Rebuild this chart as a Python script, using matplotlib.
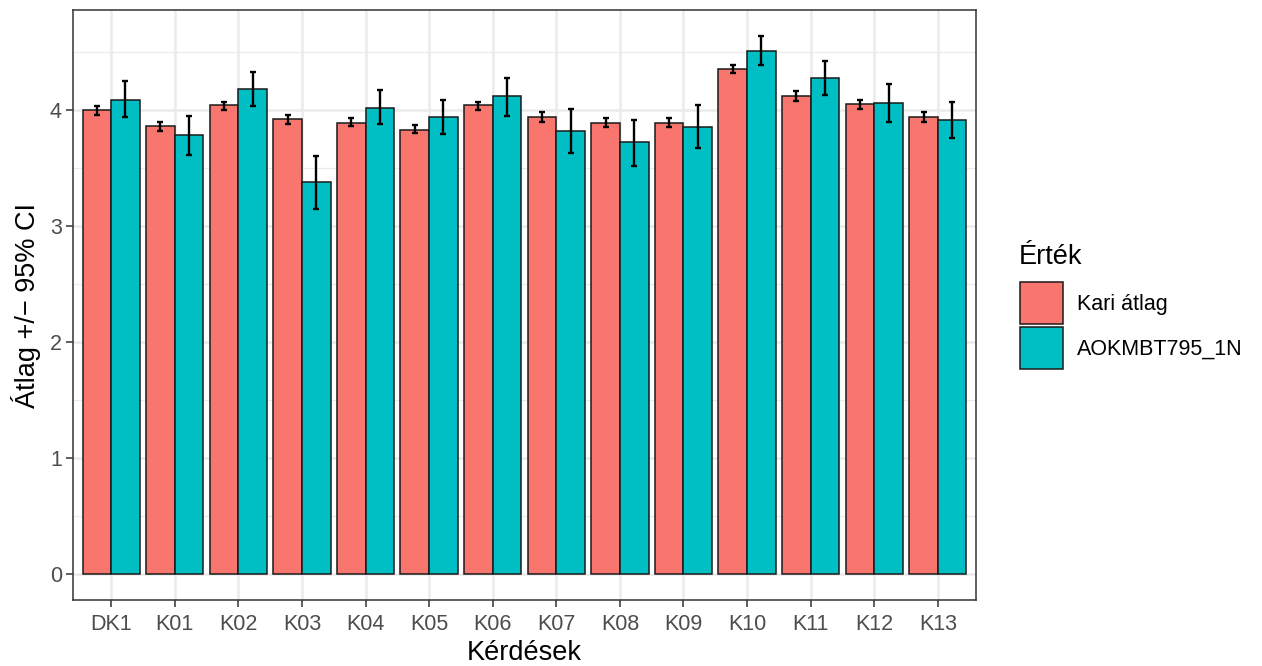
import matplotlib.pyplot as plt
import numpy as np

plt.rcParams['font.family'] = ['Liberation Sans', 'DejaVu Sans']

kerdesek = ['DK1', 'K01', 'K02', 'K03', 'K04', 'K05', 'K06',
            'K07', 'K08', 'K09', 'K10', 'K11', 'K12', 'K13']
# Kari atlag
kari = [4.00, 3.86, 4.04, 3.92, 3.89, 3.83, 4.04, 3.94, 3.89, 3.89, 4.35, 4.12, 4.05, 3.94]
kari_lo = [3.96, 3.82, 4.00, 3.88, 3.86, 3.80, 4.00, 3.90, 3.85, 3.85, 4.32, 4.08, 4.01, 3.90]
kari_hi = [4.03, 3.90, 4.07, 3.96, 3.93, 3.87, 4.07, 3.98, 3.93, 3.93, 4.39, 4.16, 4.09, 3.98]
# AOKMBT795_1N
kurzus = [4.09, 3.78, 4.18, 3.38, 4.02, 3.94, 4.12, 3.82, 3.72, 3.85, 4.51, 4.28, 4.06, 3.91]
kurzus_lo = [3.94, 3.61, 4.03, 3.15, 3.88, 3.79, 3.95, 3.63, 3.52, 3.67, 4.39, 4.13, 3.90, 3.76]
kurzus_hi = [4.25, 3.95, 4.33, 3.60, 4.17, 4.09, 4.28, 4.01, 3.91, 4.04, 4.64, 4.42, 4.22, 4.07]

red = '#F8766D'
teal = '#00BFC4'

fig = plt.figure(figsize=(12.62, 6.66), dpi=100)
ax = fig.add_axes([73/1262, 1-600/666, (976-73)/1262, (600-10)/666])

x = np.arange(1, len(kerdesek) + 1)
w = 0.45
k = np.array(kari)
c = np.array(kurzus)
ax.bar(x - w/2, k, width=w, color=red, edgecolor='#1a1a1a', linewidth=1.1, label='Kari átlag', zorder=3)
ax.bar(x + w/2, c, width=w, color=teal, edgecolor='#1a1a1a', linewidth=1.1, label='AOKMBT795_1N', zorder=3)
ax.errorbar(x - w/2, k, yerr=[k - np.array(kari_lo), np.array(kari_hi) - k], fmt='none',
            ecolor='black', elinewidth=1.7, capsize=2.3, capthick=1.7, zorder=4)
ax.errorbar(x + w/2, c, yerr=[c - np.array(kurzus_lo), np.array(kurzus_hi) - c], fmt='none',
            ecolor='black', elinewidth=1.7, capsize=2.3, capthick=1.7, zorder=4)

ax.set_xlim(0.4, len(kerdesek) + 0.6)
ax.set_ylim(-0.225, 4.862)
ax.set_xticks(x)
ax.set_xticklabels(kerdesek)
ax.set_yticks([0, 1, 2, 3, 4])
ax.set_yticks([0.5, 1.5, 2.5, 3.5, 4.5], minor=True)
ax.grid(which='major', color='#ebebeb', linewidth=1.8, zorder=0)
ax.grid(which='minor', axis='y', color='#ebebeb', linewidth=0.9, zorder=0)
ax.set_axisbelow(True)
for s in ax.spines.values():
    s.set_color('#333333')
    s.set_linewidth(1.1)
ax.tick_params(axis='both', which='major', colors='#333333', labelcolor='#4d4d4d',
               labelsize=15.5, length=5, width=1.1, pad=3)
ax.tick_params(axis='x', which='major', pad=5)
ax.tick_params(axis='both', which='minor', length=0)
ax.set_xlabel('Kérdések', fontsize=19.5, labelpad=4)
ax.set_ylabel('Átlag +/− 95% CI', fontsize=19.5, labelpad=6)

# legend: title as separate text, keys via ax.legend
fig.text(1019/1262, 1-264/666, 'Érték', fontsize=19.5, ha='left', va='baseline')
leg = ax.legend(loc='upper left', bbox_to_anchor=(1020/1262, 1-282/666),
                bbox_transform=fig.transFigure, frameon=False,
                fontsize=15.5, handlelength=1.98, handleheight=2.63,
                labelspacing=0.12, handletextpad=0.68, borderaxespad=0, borderpad=0)

fig.savefig('out.png', dpi=100)
